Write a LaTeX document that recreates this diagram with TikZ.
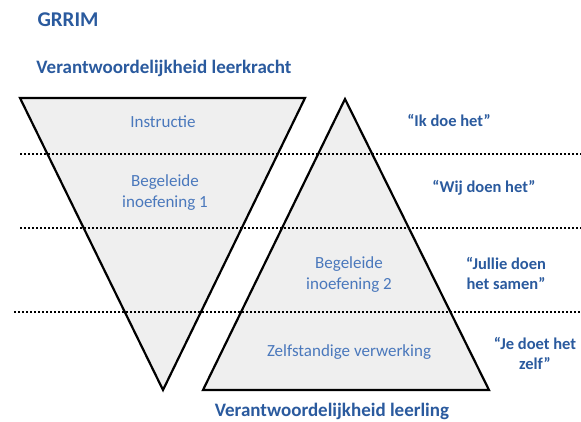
\documentclass[tikz,border=0pt]{standalone}
\usepackage{fontspec}
\setmainfont{Carlito}
\definecolor{headblue}{HTML}{2A5A9E}
\definecolor{layerblue}{HTML}{4A78BC}
\definecolor{shade}{HTML}{EFEFEF}

\tikzset{
  tri/.style={fill=shade,draw=black,line width=2.2pt,line join=miter},
  divider/.style={line width=1.6pt,dash pattern=on 1.8pt off 2.2pt},
  head/.style={font=\bfseries\fontsize{19}{22}\selectfont,color=headblue},
  layer/.style={font=\fontsize{17}{21}\selectfont,color=layerblue,align=center},
  saying/.style={font=\bfseries\fontsize{16.5}{20}\selectfont,color=headblue,align=center},
}

\begin{document}
\begin{tikzpicture}[x=1pt,y=-1pt]
  \fill[white] (0,0) rectangle (581,422);
  \useasboundingbox (0,0) rectangle (581,422);

  % teacher triangle points down, pupil triangle points up
  \coordinate (tl) at (20,98);
  \coordinate (tr) at (305,98);
  \coordinate (tbot) at (163,390);
  \coordinate (ptop) at (345,99);
  \coordinate (pl) at (203,390);
  \coordinate (pr) at (489,390);
  \draw[tri] (tl) -- (tr) -- (tbot) -- cycle;
  \draw[tri] (ptop) -- (pr) -- (pl) -- cycle;

  \foreach \y/\x in {154/20,228/20,312/14}
    \draw[divider] (\x,\y) -- (581,\y);

  \node[head,font=\bfseries\fontsize{21}{24}\selectfont] (grrim) at (68,20) {GRRIM};
  \node[head] (teacher) at (164,68) {Verantwoordelijkheid leerkracht};
  \node[head] (pupil) at (332,411) {Verantwoordelijkheid leerling};

  \node[layer] (instr) at (163,122) {Instructie};
  \node[layer] (guided1) at (165,193) {Begeleide\\inoefening 1};
  \node[layer] (guided2) at (349,275) {Begeleide\\inoefening 2};
  \node[layer] (solo) at (349,352) {Zelfstandige verwerking};

  \node[saying] (ik) at (449,120) {“Ik doe het”};
  \node[saying] (wij) at (484,188) {“Wij doen het”};
  \node[saying] (jullie) at (506,273) {“Jullie doen\\het samen”};
  \node[saying] (je) at (535,353) {“Je doet het\\zelf”};
\end{tikzpicture}
\end{document}
